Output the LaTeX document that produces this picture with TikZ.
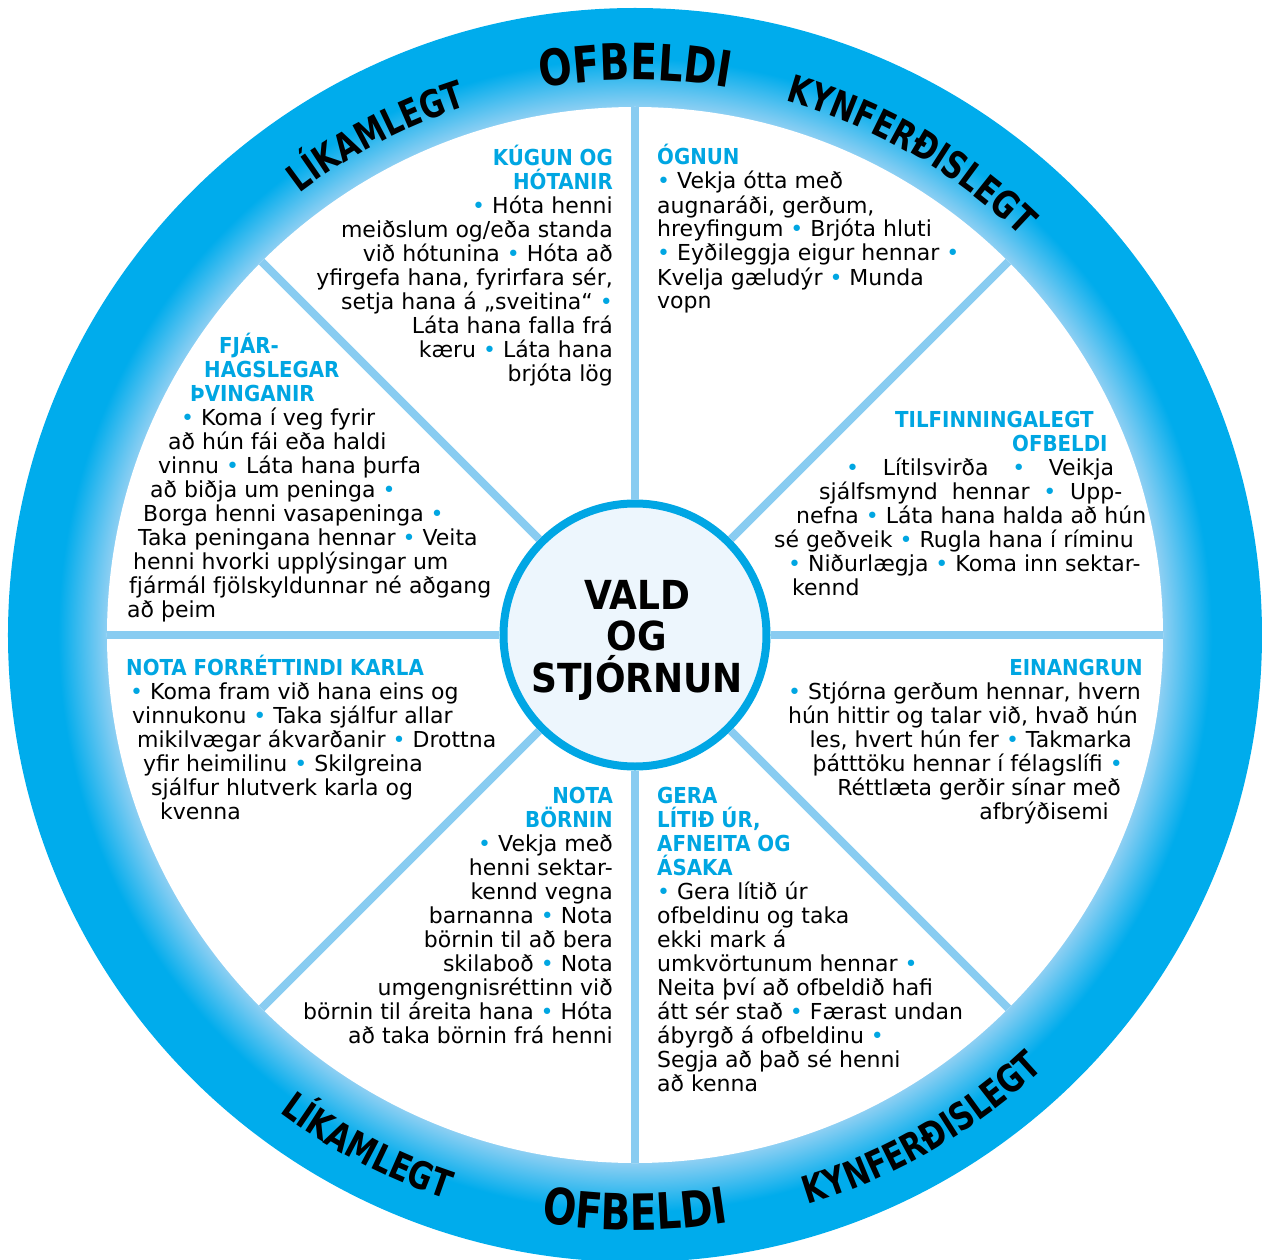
\documentclass[tikz,border=0pt]{standalone}
\usepackage{fontspec}
\setmainfont{DejaVu Sans}
\newfontfamily\headfont{DejaVu Sans Condensed Bold}
\newfontfamily\ringfont{DejaVu Sans Condensed Bold}[FakeStretch=0.87]
\usetikzlibrary{decorations.text}

\definecolor{wheelblue}{RGB}{0,166,226}
\definecolor{ringdark}{RGB}{0,172,236}
\definecolor{ringlight}{RGB}{145,208,243}
\definecolor{spokeblue}{RGB}{137,204,241}
\definecolor{corefill}{RGB}{237,246,253}
\definecolor{coreedge}{RGB}{0,166,228}

\pgfdeclareradialshading{ringshade}{\pgfpointorigin}{color(0bp)=(ringlight); color(21bp)=(ringlight); color(23bp)=(ringdark); color(25bp)=(ringdark); color(50bp)=(ringdark)}

\setlength{\lineskiplimit}{-50pt}
\newcommand\bodysize{\fontsize{22}{24}\selectfont}
\newcommand\bl{{\color{wheelblue}•}}
\newcommand\hd[1]{{\headfont\color{wheelblue}#1}}
\newcommand\pad[1]{\rule{#1}{0pt}}
\newcommand\ringbig{\ringfont\fontsize{50}{50}\selectfont}
\newcommand\ringsmall{\ringfont\fontsize{38}{38}\selectfont}

\begin{document}
\begin{tikzpicture}[x=1pt, y=1pt]

        % Setup the styles for the wheel
        \tikzset{spoke/.style={draw=spokeblue, line width=8pt},
                 core/.style={circle, draw=coreedge, fill=corefill,
                              line width=8pt, minimum size=263pt, inner sep=0pt},
                 block/.style={font=\bodysize, inner sep=0pt},
                 blockright/.style={block, align=right, anchor=base east},
                 blockleft/.style={block, align=left, anchor=base west},
                 ringword/.style={decorate, decoration={text along path,
                                  text align=center, text={#1}}}}

\useasboundingbox (-635,-626) rectangle (628,633);
\coordinate (hub) at (0,-2);

% The ring
\shade[shading=ringshade] (hub) circle[radius=627pt];
\fill[white] (hub) circle[radius=528pt];

% The middle and the spokes
\node[core] (core) at (hub) {};
\foreach \a in {0,45,...,315}
    \draw[spoke] (core.\a) -- ([shift={(\a:528)}]hub);

\node[block, align=center, anchor=base, font=\headfont\fontsize{40}{41.5}\selectfont]
    (vald) at (2,-59) {VALD\\OG\\STJÓRNUN};

% Words on the ring
\path[ringword={|\ringsmall|LÍKAMLEGT}] (140:553) arc[start angle=140, end angle=95, radius=553pt];
\path[ringword={|\ringbig|OFBELDI}] (112:553) arc[start angle=112, end angle=68, radius=553pt];
\path[ringword={|\ringsmall|KYNFERÐISLEGT}] (85:553) arc[start angle=85, end angle=35, radius=553pt];
\path[ringword={|\ringsmall|LÍKAMLEGT}] (220:597) arc[start angle=220, end angle=265, radius=597pt];
\path[ringword={|\ringbig|OFBELDI}] (248:597) arc[start angle=248, end angle=292, radius=597pt];
\path[ringword={|\ringsmall|KYNFERÐISLEGT}] (275:597) arc[start angle=275, end angle=325, radius=597pt];

% The eight fields (placed at the baseline of their last line)
\node[blockright] (kugun) at (-22,252) {\hd{KÚGUN OG}\\\hd{HÓTANIR}\\\bl\ Hóta henni\\
    meiðslum og/eða standa\\við hótunina \bl\ Hóta að\\yfirgefa hana, fyrirfara sér,\\
    setja hana á „sveitina“ \bl\\Láta hana falla frá\\kæru \bl\ Láta hana\\brjóta lög};

\node[blockleft] (ognun) at (22,324) {\hd{ÓGNUN}\\\bl\ Vekja ótta með\\augnaráði, gerðum,\\
    hreyfingum \bl\ Brjóta hluti\\\bl\ Eyðileggja eigur hennar \bl\\
    Kvelja gæludýr \bl\ Munda\\vopn};

\node[blockleft] (fjar) at (-508,16) {\pad{92pt}\hd{FJÁR-}\\\pad{77pt}\hd{HAGSLEGAR}\\
    \pad{63pt}\hd{ÞVINGANIR}\\\pad{54pt}\bl\ Koma í veg fyrir\\\pad{41pt}að hún fái eða haldi\\
    \pad{31pt}vinnu \bl\ Láta hana þurfa\\\pad{23pt}að biðja um peninga \bl\\
    \pad{16pt}Borga henni vasapeninga \bl\\\pad{11pt}Taka peningana hennar \bl\ Veita\\
    \pad{6pt}henni hvorki upplýsingar um\\\pad{2pt}fjármál fjölskyldunnar né aðgang\\að þeim};

\node[blockleft] (tilf) at (139,38) {\pad{121pt}\hd{TILFINNINGALEGT}\\\pad{238pt}\hd{OFBELDI}\\
    \pad{72pt}\makebox[268pt][s]{\bl\ Lítilsvirða \bl\ Veikja}\\
    \pad{45pt}\makebox[303pt][s]{sjálfsmynd hennar \bl\ Upp-}\\
    \pad{22pt}nefna \bl\ Láta hana halda að hún\\sé geðveik \bl\ Rugla hana í ríminu\\
    \pad{14pt}\bl\ Niðurlægja \bl\ Koma inn sektar-\\\pad{18pt}kennd};

\node[blockleft] (forrettindi) at (-509,-186) {\hd{NOTA FORRÉTTINDI KARLA}\\
    \pad{4pt}\bl\ Koma fram við hana eins og\\\pad{6pt}vinnukonu \bl\ Taka sjálfur allar\\
    \pad{11pt}mikilvægar ákvarðanir \bl\ Drottna\\\pad{17pt}yfir heimilinu \bl\ Skilgreina\\
    \pad{25pt}sjálfur hlutverk karla og\\\pad{34pt}kvenna};

\node[blockright] (einangrun) at (508,-186) {\hd{EINANGRUN}\\
    \bl\ Stjórna gerðum hennar, hvern\pad{2pt}\\hún hittir og talar við, hvað hún\pad{5pt}\\
    les, hvert hún fer \bl\ Takmarka\pad{11pt}\\þátttöku hennar í félagslífi \bl\pad{20pt}\\
    Réttlæta gerðir sínar með\pad{22pt}\\afbrýðisemi\pad{34pt}};

\node[blockright] (born) at (-22,-410) {\hd{NOTA}\\\hd{BÖRNIN}\\\bl\ Vekja með\\henni sektar-\\
    kennd vegna\\barnanna \bl\ Nota\\börnin til að bera\\skilaboð \bl\ Nota\\
    umgengnisréttinn við\\börnin til áreita hana \bl\ Hóta\\að taka börnin frá henni};

\node[blockleft] (gera) at (22,-458) {\hd{GERA}\\\hd{LÍTIÐ ÚR,}\\\hd{AFNEITA OG}\\\hd{ÁSAKA}\\
    \bl\ Gera lítið úr\\ofbeldinu og taka\\ekki mark á\\umkvörtunum hennar \bl\\
    Neita því að ofbeldið hafi\\átt sér stað \bl\ Færast undan\\ábyrgð á ofbeldinu \bl\\
    Segja að það sé henni\\að kenna};
\end{tikzpicture}
\end{document}
